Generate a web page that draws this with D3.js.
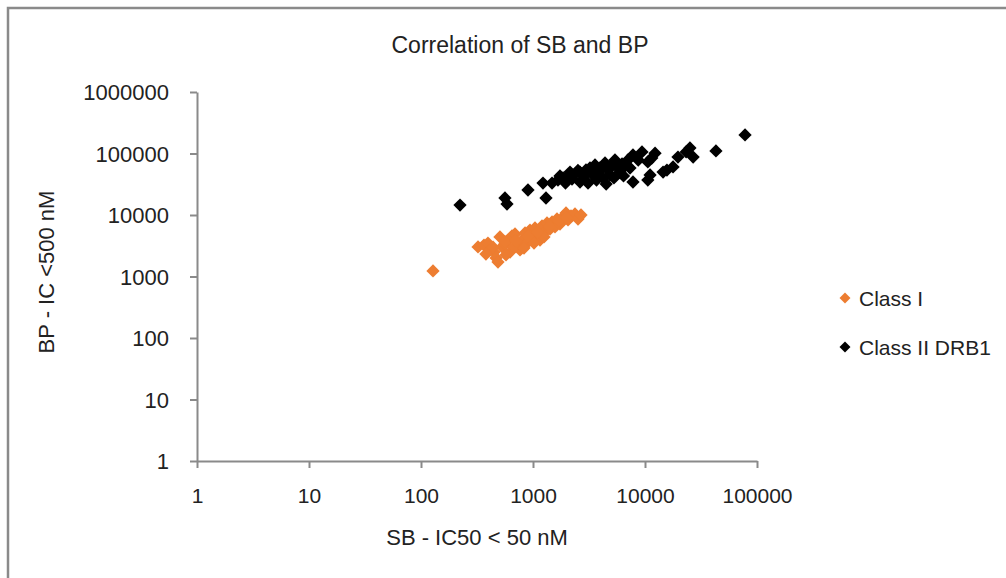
<!DOCTYPE html>
<html>
<head>
<meta charset="utf-8">
<script src="https://cdn.jsdelivr.net/npm/d3@7"></script>
<style>
  body { margin: 0; background: #fff; }
  text { font-family: "Liberation Sans", Arial, sans-serif; fill: #222; }
</style>
</head>
<body>
<div id="chart"></div>
<script>
// tick values for both log axes
var xTicks = [1, 10, 100, 1000, 10000, 100000];
var yTicks = [1, 10, 100, 1000, 10000, 100000, 1000000];

// Class I  [SB IC50, BP IC]
var classI = [
  [128,1230],[323,3020],[365,3250],[396,3500],[413,2700],[449,2500],[468,2000],[487,1720],
  [507,4390],[529,3020],[562,3380],[598,3920],[624,2500],[649,4560],[691,4910],[720,3250],
  [766,2700],[798,3920],[849,5100],[884,3500],[940,5700],[980,4230],[1042,6150],[1086,4730],
  [1155,3920],[1203,6630],[1279,5290],[1334,7410],[1418,5920],[1479,7700],[1572,6390],
  [1638,8610],[1742,7140],[1853,9270],[1971,10790],[2054,8300],[2184,9640],[2371,10380],
  [2523,8610],[2683,10000],[380,2320],[574,2240],[676,3020],[831,2900],[1021,3500],[1254,4390],
  [440,3000],[560,3700],[700,3800],[900,4500],[1100,5200],[1400,6500],[1700,8000],[2000,9000]
];

// Class II DRB1
var classII = [
  [223,14500],[562,18900],[586,15100],[902,25500],[1228,33100],[1306,18900],
  [1479,33100],[1671,37000],[1853,40000],[2054,43100],[2230,38500],[2371,46400],[2628,50000],
  [2851,43100],[2972,53900],[3227,58100],[3363,46400],[3578,65000],[3803,50000],[3966,58100],
  [4217,40000],[4396,70100],[4675,53900],[4875,44700],[5070,65000],[5395,78400],[5740,58100],
  [5984,50000],[6237,67500],[6627,62700],[7047,78400],[7345,58100],[4500,31900],[3690,37000],
  [3100,33100],[2628,34400],[5280,40000],[6430,43100],[1950,33100],[1740,43100],[2140,50000],
  [2520,53000],[7810,94600],[9400,106000],[12300,101000],[8700,78400],[10600,72800],
  [11500,84500],[7810,34400],[11100,44700],[10600,37000],[15700,53800],[17800,60500],
  [14500,50000],[19700,87500],[25200,123000],[26900,87500],[23300,106000],[43000,110000],
  [78200,200000]
];

var series = [
  {name: "Class I", color: "#ed7d31", data: classI},
  {name: "Class II DRB1", color: "#000000", data: classII}
];

var margin = {top: 92, left: 197},
    width = 560,
    height = 369;

var svg = d3.select("#chart").append("svg")
  .attr("width", 1006)
  .attr("height", 578);

// chart border (runs off the right and bottom)
svg.append("rect")
  .attr("x", 8).attr("y", 8)
  .attr("width", 1100).attr("height", 700)
  .attr("fill", "none")
  .attr("stroke", "#8a8a8a")
  .attr("stroke-width", 2.5);

var g = svg.append("g")
  .attr("transform", "translate(" + margin.left + "," + margin.top + ")");

var x = d3.scaleLog().domain([1, 100000]).range([0, width]);
var y = d3.scaleLog().domain([1, 1000000]).range([height, 0]);

var axisColor = "#8a8a8a";

var gx = g.append("g")
  .attr("transform", "translate(0," + height + ")")
  .call(d3.axisBottom(x).tickValues(xTicks).tickFormat(d3.format("d")).tickSize(7).tickSizeOuter(0));
gx.selectAll("text").attr("dy", null).attr("y", 42).style("font-size", "21px");

var gy = g.append("g")
  .call(d3.axisLeft(y).tickValues(yTicks).tickFormat(d3.format("d")).tickSize(7).tickSizeOuter(0));
gy.selectAll("text").attr("x", -28).attr("dy", "0.36em").style("font-size", "22px");

g.selectAll(".domain, .tick line")
  .attr("stroke", axisColor)
  .attr("stroke-width", 2);

// points
var diamond = d3.symbol().type(d3.symbolSquare).size(88);

series.forEach(function(s) {
  g.append("g").selectAll("path")
    .data(s.data)
    .enter()
    .append("path")
      .attr("d", diamond)
      .attr("transform", function(d) {
        return "translate(" + x(d[0]) + "," + y(d[1]) + ") rotate(45)";
      })
      .attr("fill", s.color);
});

// title
svg.append("text")
  .attr("x", 520).attr("y", 53)
  .attr("text-anchor", "middle")
  .style("font-size", "23px")
  .text("Correlation of SB and BP");

// x axis label
svg.append("text")
  .attr("x", 477).attr("y", 545)
  .attr("text-anchor", "middle")
  .style("font-size", "22px")
  .text("SB - IC50 < 50 nM");

// y axis label
svg.append("text")
  .attr("transform", "translate(54,272) rotate(-90)")
  .attr("text-anchor", "middle")
  .style("font-size", "22px")
  .text("BP - IC <500 nM");

// legend
var legend = svg.append("g").attr("transform", "translate(845,298)");
series.forEach(function(s, i) {
  var row = legend.append("g").attr("transform", "translate(0," + (i * 49) + ")");
  row.append("path")
    .attr("d", d3.symbol().type(d3.symbolSquare).size(60))
    .attr("transform", "rotate(45)")
    .attr("fill", s.color);
  row.append("text")
    .attr("x", 14).attr("dy", "0.36em")
    .style("font-size", "21px")
    .text(s.name);
});
</script>
</body>
</html>
